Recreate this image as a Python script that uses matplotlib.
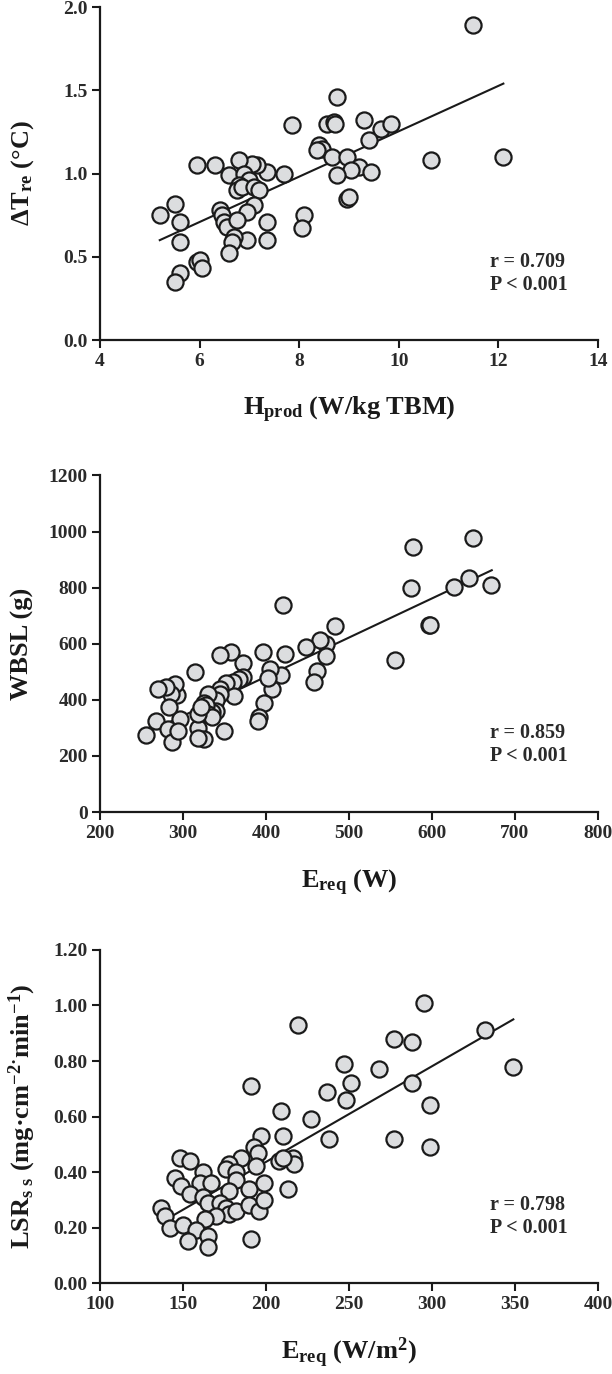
import numpy as np
import matplotlib
matplotlib.use("Agg")
import matplotlib.pyplot as plt
from matplotlib.ticker import FormatStrFormatter

plt.rcParams["font.family"] = ["Liberation Serif", "DejaVu Serif"]
plt.rcParams["font.weight"] = "bold"
plt.rcParams["mathtext.fontset"] = "custom"
plt.rcParams["mathtext.rm"] = "Liberation Serif:bold"
plt.rcParams["mathtext.it"] = "Liberation Serif:bold"
plt.rcParams["mathtext.bf"] = "Liberation Serif:bold"
plt.rcParams["mathtext.default"] = "rm"

# panel A: heat production vs rectal temperature change
hprod = [11.5, 12.1, 10.65, 8.75, 7.85, 8.55, 8.7, 8.72, 9.3, 9.65, 9.85, 9.4,
         8.4, 8.45, 8.35, 8.65, 8.95, 9.2, 9.05, 9.45, 8.75, 8.95, 9.0, 8.1, 8.05,
         7.7, 7.35, 7.15, 7.05, 6.8, 6.3, 5.95, 6.6, 6.9, 7.0, 6.8, 6.75, 6.85,
         7.1, 7.2, 7.1, 6.95, 6.4, 6.45, 6.5, 6.55, 6.75, 7.35, 7.35, 6.95, 6.7,
         6.65, 6.6, 5.2, 5.5, 5.6, 5.6, 5.95, 6.0, 6.05, 5.6, 5.5]
dtre = [1.89, 1.10, 1.08, 1.46, 1.29, 1.30, 1.31, 1.30, 1.32, 1.27, 1.30, 1.20,
        1.17, 1.15, 1.14, 1.10, 1.10, 1.04, 1.02, 1.01, 0.99, 0.85, 0.86, 0.75, 0.67,
        1.00, 1.01, 1.05, 1.06, 1.08, 1.05, 1.05, 0.99, 1.00, 0.96, 0.93, 0.90, 0.92,
        0.92, 0.90, 0.81, 0.77, 0.78, 0.75, 0.71, 0.68, 0.72, 0.71, 0.60, 0.60, 0.62,
        0.59, 0.52, 0.75, 0.82, 0.71, 0.59, 0.47, 0.48, 0.43, 0.40, 0.35]
fit_a_x = [5.2, 12.1]
fit_a_y = [0.60, 1.54]

# panel B: required evaporation (W) vs whole body sweat loss
ereq_w = [650, 577, 575, 626, 645, 671, 596, 598, 556, 483, 420, 472, 465, 448,
          472, 462, 458, 423, 418, 407, 405, 402, 396, 398, 391, 390, 372, 372,
          368, 358, 345, 360, 352, 345, 362, 345, 340, 340, 335, 330, 325, 328,
          330, 335, 315, 318, 318, 322, 325, 318, 350, 296, 293, 290, 285, 280,
          270, 268, 283, 282, 287, 294, 256]
wbsl = [978, 945, 800, 802, 835, 808, 668, 668, 543, 663, 737, 600, 615, 590,
        557, 503, 462, 562, 490, 440, 510, 477, 570, 388, 340, 325, 532, 480,
        475, 572, 560, 465, 460, 440, 415, 420, 400, 360, 355, 420, 390, 380,
        350, 340, 500, 300, 350, 375, 260, 265, 288, 330, 418, 455, 420, 445,
        440, 325, 375, 295, 250, 290, 275]
fit_b_x = [280, 672]
fit_b_y = [315, 862]

# panel C: required evaporation (W/m2) vs local sweat rate
ereq_m2 = [295, 219, 332, 277, 288, 247, 349, 268, 251, 288, 191, 237, 248, 299,
           209, 227, 210, 197, 238, 277, 193, 299, 195, 208, 216, 217, 210, 194,
           185, 178, 176, 182, 148, 154, 162, 145, 160, 167, 182, 190, 199, 213,
           149, 154, 162, 165, 178, 172, 176, 178, 182, 190, 196, 199, 170, 163,
           137, 139, 142, 150, 158, 153, 165, 165, 191]
lsr = [1.01, 0.93, 0.91, 0.88, 0.87, 0.79, 0.78, 0.77, 0.72, 0.72, 0.71, 0.69,
       0.66, 0.64, 0.62, 0.59, 0.53, 0.53, 0.52, 0.52, 0.49, 0.49, 0.47, 0.44,
       0.45, 0.43, 0.45, 0.42, 0.45, 0.43, 0.41, 0.40, 0.45, 0.44, 0.40, 0.38,
       0.36, 0.36, 0.37, 0.34, 0.36, 0.34, 0.35, 0.32, 0.31, 0.29, 0.33, 0.29,
       0.27, 0.25, 0.26, 0.28, 0.26, 0.30, 0.24, 0.23, 0.27, 0.24, 0.20, 0.21,
       0.19, 0.15, 0.17, 0.13, 0.16]
fit_c_x = [143, 349]
fit_c_y = [0.24, 0.95]

panels = [
    dict(x=hprod, y=dtre, fx=fit_a_x, fy=fit_a_y, xlim=(4, 14), ylim=(0, 2.0),
         xt=np.arange(4, 15, 2), yt=np.arange(0, 2.01, 0.5), yfmt="%.1f",
         xlabel=r"H$_{prod}$ (W/kg TBM)", ylabel=r"ΔT$_{re}$ (°C)",
         stats="r = 0.709\nP < 0.001", pos=[0.1634, 0.7525, 0.8137, 0.2424]),
    dict(x=ereq_w, y=wbsl, fx=fit_b_x, fy=fit_b_y, xlim=(200, 800), ylim=(0, 1200),
         xt=np.arange(200, 801, 100), yt=np.arange(0, 1201, 200), yfmt="%d",
         xlabel=r"E$_{req}$ (W)", ylabel="WBSL (g)",
         stats="r = 0.859\nP < 0.001", pos=[0.1634, 0.4090, 0.8137, 0.2450]),
    dict(x=ereq_m2, y=lsr, fx=fit_c_x, fy=fit_c_y, xlim=(100, 400), ylim=(0, 1.2),
         xt=np.arange(100, 401, 50), yt=np.arange(0, 1.201, 0.2), yfmt="%.2f",
         xlabel=r"E$_{req}$ (W/m$^{2}$)",
         ylabel=r"LSR$_{s\ s}$ (mg·cm$^{-2·}$min$^{-1}$)",
         stats="r = 0.798\nP < 0.001", pos=[0.1634, 0.0662, 0.8137, 0.2424]),
]

fig = plt.figure(figsize=(6.12, 13.74), dpi=100)
fig.patch.set_facecolor("white")

for p in panels:
    ax = fig.add_axes(p["pos"])
    ax.set_facecolor("none")
    ax.plot(p["fx"], p["fy"], color="#1a1a1a", lw=1.5, zorder=2)
    ax.scatter(p["x"], p["y"], s=135, facecolor="#dcdddf", edgecolor="#1a1a1a",
               linewidths=1.6, zorder=3, clip_on=False)
    ax.set_xlim(*p["xlim"])
    ax.set_ylim(*p["ylim"])
    ax.set_xticks(p["xt"])
    ax.set_yticks(p["yt"])
    ax.yaxis.set_major_formatter(FormatStrFormatter(p["yfmt"]))
    for side in ["top", "right"]:
        ax.spines[side].set_visible(False)
    for side in ["left", "bottom"]:
        ax.spines[side].set_linewidth(1.6)
        ax.spines[side].set_color("#1a1a1a")
    ax.tick_params(direction="out", length=6, width=1.5, labelsize=14,
                   color="#1a1a1a", labelcolor="#2a2a2a", pad=3)
    for lab in ax.get_xticklabels() + ax.get_yticklabels():
        lab.set_fontweight("bold")
    ax.text(0.5, -0.21, p["xlabel"], transform=ax.transAxes, ha="center",
            va="center", fontsize=19, fontweight="bold", color="#1a1a1a")
    ax.text(-0.155, 0.5, p["ylabel"], transform=ax.transAxes, ha="center",
            va="center", rotation=90, fontsize=19, fontweight="bold", color="#1a1a1a")
    ax.text(0.783, 0.2, p["stats"], transform=ax.transAxes, ha="left",
            va="center", fontsize=14.5, fontweight="bold", color="#2a2a2a",
            linespacing=1.2)

fig.savefig("out.png", dpi=100, facecolor="white")
